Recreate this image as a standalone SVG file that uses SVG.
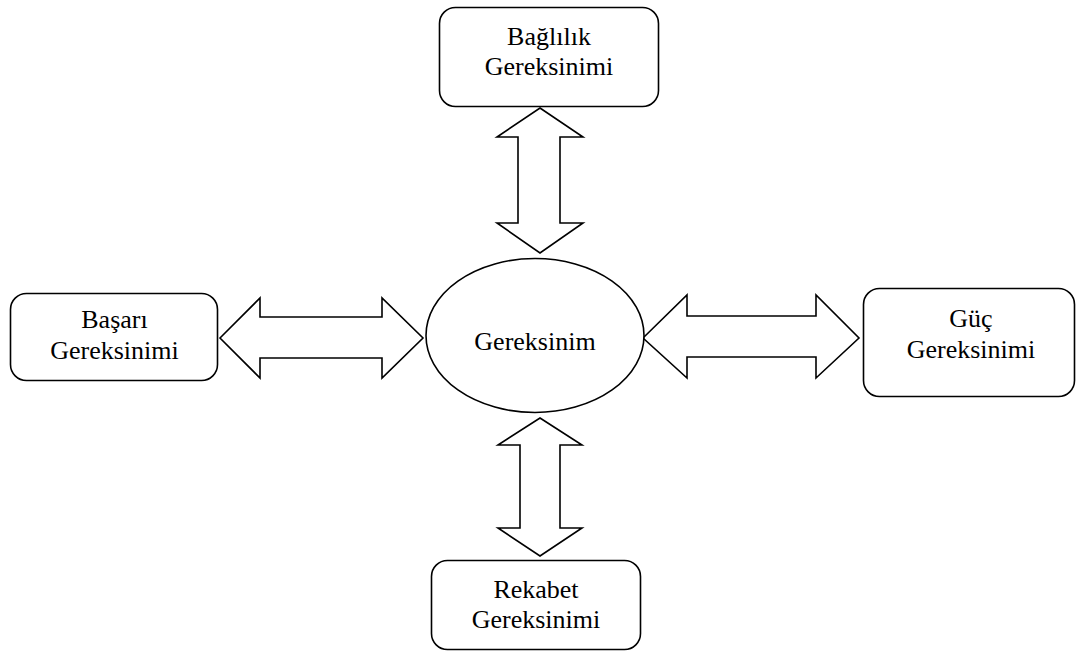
<svg xmlns="http://www.w3.org/2000/svg" width="1077" height="651" viewBox="0 0 1077 651">
  <style>
    .box { fill: #ffffff; stroke: #000000; stroke-width: 1.6; }
    .arrow { fill: #ffffff; stroke: #000000; stroke-width: 1.6; stroke-linejoin: miter; }
    .label { font-family: "Liberation Serif", "Times New Roman", serif; font-size: 26px; fill: #000000; text-anchor: middle; }
  </style>
  <rect width="1077" height="651" fill="#ffffff"/>

  <g id="connectors">
    <!-- vertical double arrow: top node to centre -->
    <polygon class="arrow" points="540,108 583,137 560,137 560,223 583,223 540,253 497,223 518,223 518,137 497,137"/>
    <!-- horizontal double arrow: left node to centre -->
    <polygon class="arrow" points="220,338 260,298 260,317 382,317 382,298 423,338 382,378 382,358 260,358 260,378"/>
    <!-- horizontal double arrow: centre to right node -->
    <polygon class="arrow" points="643,338 687,295 687,316 816,316 816,295 859,338 816,378 816,357 687,357 687,378"/>
    <!-- vertical double arrow: centre to bottom node -->
    <polygon class="arrow" points="540,418 582,445 560,445 560,528 582,528 540,556 498,528 520,528 520,445 498,445"/>
  </g>

  <g id="node-center">
    <ellipse class="box" cx="535" cy="335.5" rx="109" ry="77"/>
    <text class="label" x="535" y="350">Gereksinim</text>
  </g>

  <g id="node-top">
    <rect class="box" x="439.5" y="7.5" width="219" height="99" rx="16"/>
    <text class="label" x="549" y="45">Bağlılık</text>
    <text class="label" x="549" y="75">Gereksinimi</text>
  </g>

  <g id="node-left">
    <rect class="box" x="10.5" y="293.5" width="207" height="87" rx="16"/>
    <text class="label" x="114.5" y="328">Başarı</text>
    <text class="label" x="114.5" y="359">Gereksinimi</text>
  </g>

  <g id="node-right">
    <rect class="box" x="863.5" y="288.5" width="211" height="108" rx="16"/>
    <text class="label" x="971" y="327">Güç</text>
    <text class="label" x="971" y="358">Gereksinimi</text>
  </g>

  <g id="node-bottom">
    <rect class="box" x="431.5" y="560.5" width="209" height="89" rx="16"/>
    <text class="label" x="536" y="598">Rekabet</text>
    <text class="label" x="536" y="628">Gereksinimi</text>
  </g>
</svg>
